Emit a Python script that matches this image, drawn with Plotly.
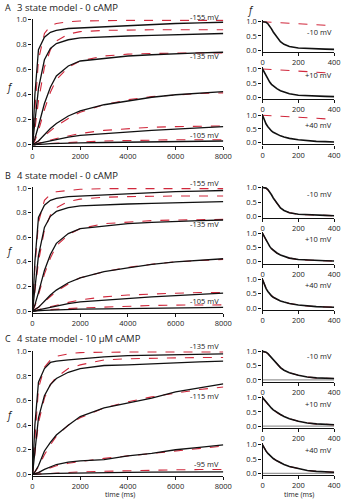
import plotly.graph_objects as go

W, H = 349, 500

# ---------------- data ----------------
T = [0, 100, 250, 500, 750, 1000, 1500, 2000, 3000, 4000, 5000, 6000, 7000, 8000]

# recorded activation traces, 0 cAMP (shared by panels A and B)
rec0_m155 = [0, 0.40, 0.76, 0.86, 0.90, 0.915, 0.93, 0.935, 0.945, 0.955, 0.96, 0.97, 0.975, 0.98]
rec0_m145 = [0, 0.20, 0.45, 0.68, 0.77, 0.81, 0.84, 0.855, 0.865, 0.87, 0.875, 0.88, 0.885, 0.89]
rec0_m135 = [0, 0.05, 0.15, 0.33, 0.46, 0.55, 0.63, 0.67, 0.69, 0.71, 0.72, 0.73, 0.735, 0.74]
rec0_m125 = [0, 0.01, 0.03, 0.08, 0.13, 0.17, 0.23, 0.27, 0.32, 0.35, 0.38, 0.40, 0.415, 0.425]
rec0_m115 = [0, 0.0, 0.01, 0.02, 0.03, 0.045, 0.06, 0.075, 0.09, 0.105, 0.115, 0.125, 0.135, 0.145]
rec0_m105 = [0, 0, 0, 0.005, 0.008, 0.01, 0.012, 0.015, 0.018, 0.02, 0.022, 0.025, 0.027, 0.03]

# 3 state model fits, 0 cAMP
fitA_m155 = [0, 0.30, 0.68, 0.89, 0.95, 0.97, 0.985, 0.99, 0.995, 0.995, 0.995, 0.995, 0.995, 0.995]
fitA_m145 = [0, 0.12, 0.35, 0.62, 0.76, 0.83, 0.885, 0.905, 0.915, 0.92, 0.92, 0.92, 0.92, 0.92]
fitA_m135 = [0, 0.03, 0.11, 0.28, 0.42, 0.52, 0.62, 0.67, 0.71, 0.725, 0.73, 0.735, 0.735, 0.735]
fitA_m125 = [0, 0.01, 0.03, 0.07, 0.11, 0.15, 0.21, 0.26, 0.32, 0.36, 0.385, 0.40, 0.41, 0.415]
fitA_m115 = [0, 0.005, 0.012, 0.025, 0.04, 0.05, 0.07, 0.09, 0.115, 0.13, 0.14, 0.145, 0.148, 0.15]
fitA_m105 = [0, 0, 0.003, 0.006, 0.01, 0.013, 0.018, 0.022, 0.03, 0.035, 0.038, 0.04, 0.04, 0.04]

# 4 state model fits, 0 cAMP
fitB_m155 = [0, 0.35, 0.72, 0.90, 0.95, 0.97, 0.98, 0.99, 0.995, 0.995, 0.995, 0.995, 0.995, 0.995]
fitB_m145 = [0, 0.15, 0.40, 0.66, 0.78, 0.84, 0.89, 0.91, 0.925, 0.93, 0.935, 0.935, 0.935, 0.935]
fitB_m135 = [0, 0.04, 0.13, 0.30, 0.43, 0.53, 0.62, 0.67, 0.71, 0.725, 0.735, 0.74, 0.745, 0.745]
fitB_m125 = [0, 0.01, 0.03, 0.075, 0.12, 0.16, 0.22, 0.27, 0.32, 0.355, 0.38, 0.40, 0.41, 0.42]
fitB_m115 = [0, 0.005, 0.012, 0.025, 0.038, 0.05, 0.07, 0.09, 0.115, 0.13, 0.14, 0.145, 0.15, 0.15]
fitB_m105 = [0, 0, 0.004, 0.008, 0.012, 0.015, 0.02, 0.025, 0.033, 0.04, 0.045, 0.048, 0.05, 0.05]

# recorded activation traces, 10 uM cAMP
rec10_m135 = [0, 0.40, 0.75, 0.86, 0.91, 0.92, 0.93, 0.94, 0.955, 0.965, 0.97, 0.975, 0.975, 0.98]
rec10_m125 = [0, 0.20, 0.46, 0.64, 0.73, 0.78, 0.83, 0.86, 0.885, 0.89, 0.90, 0.91, 0.915, 0.92]
rec10_m115 = [0, 0.02, 0.07, 0.19, 0.26, 0.32, 0.40, 0.47, 0.54, 0.58, 0.62, 0.67, 0.70, 0.735]
rec10_m105 = [0, 0.005, 0.015, 0.04, 0.06, 0.08, 0.10, 0.11, 0.12, 0.15, 0.17, 0.20, 0.22, 0.24]
rec10_m95 = [0, 0, 0.002, 0.004, 0.006, 0.008, 0.01, 0.012, 0.014, 0.016, 0.018, 0.02, 0.02, 0.02]

# 4 state model fits, 10 uM cAMP
fitC_m135 = [0, 0.30, 0.70, 0.87, 0.93, 0.96, 0.98, 0.99, 0.995, 0.995, 0.995, 0.995, 0.995, 0.995]
fitC_m125 = [0, 0.15, 0.42, 0.62, 0.73, 0.79, 0.86, 0.89, 0.93, 0.94, 0.945, 0.95, 0.95, 0.95]
fitC_m115 = [0, 0.02, 0.06, 0.16, 0.24, 0.31, 0.40, 0.46, 0.54, 0.59, 0.63, 0.66, 0.69, 0.71]
fitC_m105 = [0, 0.005, 0.015, 0.035, 0.055, 0.07, 0.09, 0.105, 0.13, 0.15, 0.17, 0.19, 0.21, 0.23]
fitC_m95 = [0, 0.001, 0.003, 0.006, 0.009, 0.012, 0.016, 0.02, 0.025, 0.03, 0.034, 0.037, 0.039, 0.04]

# deactivation (small panels)
TS = [0, 10, 20, 30, 40, 50, 60, 80, 100, 120, 150, 200, 250, 300, 350, 400]
deact0_m10 = [1.0, 1.0, 0.98, 0.93, 0.85, 0.75, 0.64, 0.45, 0.30, 0.21, 0.13, 0.08, 0.06, 0.05, 0.04, 0.03]
deact0_p10 = [1.0, 0.88, 0.76, 0.64, 0.54, 0.46, 0.40, 0.31, 0.24, 0.19, 0.13, 0.08, 0.06, 0.05, 0.04, 0.03]
deact0_p40 = [1.0, 0.82, 0.68, 0.58, 0.49, 0.43, 0.38, 0.31, 0.25, 0.21, 0.16, 0.11, 0.07, 0.05, 0.04, 0.03]
TS_fitA = [0, 400]
dfitA_m10 = [1.0, 0.86]
dfitA_p10 = [1.0, 0.85]
dfitA_p40 = [1.0, 0.85]
dfitB_m10 = [1.0, 1.0, 0.97, 0.92, 0.85, 0.75, 0.65, 0.46, 0.31, 0.21, 0.13, 0.08, 0.06, 0.05, 0.04, 0.03]
dfitB_p10 = [1.0, 0.87, 0.75, 0.64, 0.55, 0.47, 0.40, 0.31, 0.24, 0.18, 0.13, 0.08, 0.06, 0.05, 0.04, 0.03]
dfitB_p40 = [1.0, 0.83, 0.69, 0.58, 0.50, 0.43, 0.38, 0.31, 0.25, 0.21, 0.16, 0.11, 0.07, 0.05, 0.04, 0.03]
deact10_m10 = [1.0, 0.99, 0.97, 0.92, 0.85, 0.77, 0.68, 0.54, 0.43, 0.34, 0.25, 0.16, 0.10, 0.07, 0.06, 0.05]
deact10_p10 = [1.0, 0.92, 0.84, 0.76, 0.69, 0.63, 0.57, 0.48, 0.41, 0.34, 0.26, 0.17, 0.11, 0.08, 0.06, 0.05]
deact10_p40 = [1.0, 0.87, 0.78, 0.70, 0.63, 0.57, 0.52, 0.44, 0.37, 0.31, 0.24, 0.16, 0.10, 0.07, 0.05, 0.04]
dfitC_m10 = [1.0, 0.99, 0.96, 0.92, 0.85, 0.77, 0.69, 0.55, 0.43, 0.34, 0.25, 0.16, 0.10, 0.07, 0.06, 0.05]
dfitC_p10 = [1.0, 0.91, 0.83, 0.76, 0.69, 0.63, 0.57, 0.48, 0.40, 0.34, 0.26, 0.17, 0.11, 0.08, 0.06, 0.05]
dfitC_p40 = [1.0, 0.88, 0.78, 0.70, 0.63, 0.57, 0.52, 0.44, 0.37, 0.31, 0.24, 0.16, 0.10, 0.07, 0.05, 0.04]

main_xticks = [0, 2000, 4000, 6000, 8000]
main_yticks = [0.0, 0.2, 0.4, 0.6, 0.8, 1.0]
small_xticks = [0, 200, 400]
small_yticks = [0.0, 0.5, 1.0]

# ---------------- style ----------------
FONT = "Open Sans"
BLACK = "#111111"
RED = "#d0283c"
fig = go.Figure()
layout = dict(width=W, height=H, margin=dict(l=0, r=0, t=0, b=0),
              paper_bgcolor="white", plot_bgcolor="white", showlegend=False,
              font=dict(family=FONT, color="#222", size=8))
annotations = []


def px(x):
    return x / W


def py(y):
    return 1 - y / H


axis_n = [0]


def add_axes(x0, x1, ytop, ybot, yr, xr, xt, yt, ytext, xtext, tick_font=7.5):
    axis_n[0] += 1
    n = axis_n[0]
    unit = (ybot - ytop) / 1.0
    dom_bot = ybot - yr[0] * unit
    dom_top = ytop - (yr[1] - 1.0) * unit
    sx = "" if n == 1 else str(n)
    common = dict(showline=True, linecolor=BLACK, linewidth=1.2, ticks="outside",
                  ticklen=3, tickwidth=1, tickcolor=BLACK, showgrid=False,
                  zeroline=False, tickfont=dict(size=tick_font, family=FONT, color="#222"))
    layout["xaxis" + sx] = dict(domain=[px(x0), px(x1)], range=xr, anchor="y" + sx,
                                tickvals=xt, ticktext=xtext, **common)
    layout["yaxis" + sx] = dict(domain=[py(dom_bot), py(dom_top)], range=yr, anchor="x" + sx,
                                tickvals=yt, ticktext=ytext, **common)
    return "x" + sx, "y" + sx


def line(xa, ya, x, y, red=False, width=None, color=None):
    fig.add_trace(go.Scatter(
        x=x, y=y, xaxis=xa, yaxis=ya, mode="lines", hoverinfo="skip",
        line=dict(color=color if color else (RED if red else BLACK),
                  width=width if width else (1.1 if red else 1.3),
                  dash="dash" if red else "solid", shape="linear")))


def text(x, y, s, size=7.5, xanchor="center", yanchor="middle"):
    annotations.append(dict(x=px(x), y=py(y), xref="paper", yref="paper", text=s,
                            showarrow=False, xanchor=xanchor, yanchor=yanchor,
                            borderpad=0,
                            font=dict(size=size, family=FONT, color="#222")))


main_panels = [
    dict(letter="A", title="3 state model - 0 cAMP", ytop=15, ybot=142,
         rec=[rec0_m155, rec0_m145, rec0_m135, rec0_m125, rec0_m115, rec0_m105],
         fit=[fitA_m155, fitA_m145, fitA_m135, fitA_m125, fitA_m115, fitA_m105],
         labels=[("-155 mV", 12), ("-135 mV", 52), ("-105 mV", 132)], ylab=83),
    dict(letter="B", title="4 state model - 0 cAMP", ytop=186, ybot=311,
         rec=[rec0_m155, rec0_m145, rec0_m135, rec0_m125, rec0_m115, rec0_m105],
         fit=[fitB_m155, fitB_m145, fitB_m135, fitB_m125, fitB_m115, fitB_m105],
         labels=[("-155 mV", 181), ("-135 mV", 223), ("-105 mV", 301)], ylab=250),
    dict(letter="C", title="4 state model - 10 µM cAMP", ytop=352, ybot=477,
         rec=[rec10_m135, rec10_m125, rec10_m115, rec10_m105, rec10_m95],
         fit=[fitC_m135, fitC_m125, fitC_m115, fitC_m105, fitC_m95],
         labels=[("-135 mV", 347), ("-115 mV", 397), ("-95 mV", 466)], ylab=417),
]

for p in main_panels:
    xa, ya = add_axes(31.5, 228.5, p["ytop"], p["ybot"], [-0.012, 1.005], [0, 8000],
                      main_xticks, main_yticks, ["%.1f" % v for v in main_yticks],
                      [str(v) for v in main_xticks], tick_font=7.5)
    for f in p["fit"]:
        line(xa, ya, T, f, red=True)
    for r in p["rec"]:
        line(xa, ya, T, r)
    for s, y in p["labels"]:
        text(225, y, s, size=7.5, xanchor="right")
    text(2, p["ytop"] - 5, p["letter"], size=9, xanchor="left", yanchor="bottom")
    text(14, p["ytop"] - 5, p["title"], size=9.5, xanchor="left", yanchor="bottom")
    text(8, p["ylab"], "<i>f</i>", size=10)

small_panels = [
    (17, 46, deact0_m10, TS_fitA, dfitA_m10, "-10 mV", 27, False),
    (65, 94, deact0_p10, TS_fitA, dfitA_p10, "+10 mV", 71, False),
    (112, 140, deact0_p40, TS_fitA, dfitA_p40, "+40 mV", 122, False),
    (185.5, 215, deact0_m10, TS, dfitB_m10, "-10 mV", 192, False),
    (232, 261, deact0_p10, TS, dfitB_p10, "+10 mV", 238, False),
    (279, 308, deact0_p40, TS, dfitB_p40, "+40 mV", 285, False),
    (352, 381, deact10_m10, TS, dfitC_m10, "-10 mV", 357, True),
    (399, 428, deact10_p10, TS, dfitC_p10, "+10 mV", 405, True),
    (447, 476, deact10_p40, TS, dfitC_p40, "+40 mV", 452, True),
]

for ytop, ybot, rec, tf, fit, lab, ly, base in small_panels:
    xa, ya = add_axes(269, 343, ytop, ybot, [-0.06, 1.06], [0, 400],
                      small_xticks, small_yticks, ["%.1f" % v for v in small_yticks],
                      [str(v) for v in small_xticks], tick_font=7.5)
    if base:
        line(xa, ya, [0, 400], [0, 0], width=1.2, color="#999999")
    line(xa, ya, tf, fit, red=True)
    line(xa, ya, TS, rec, width=1.6)
    text(342, ly, lab, size=7.5, xanchor="right")

text(257, 5, "<i>f</i>", size=10)
text(122, 497, "time (ms)", size=7)
text(307, 497, "time (ms)", size=7)

layout["annotations"] = annotations
fig.update_layout(**layout)
fig.write_html("out.html")
